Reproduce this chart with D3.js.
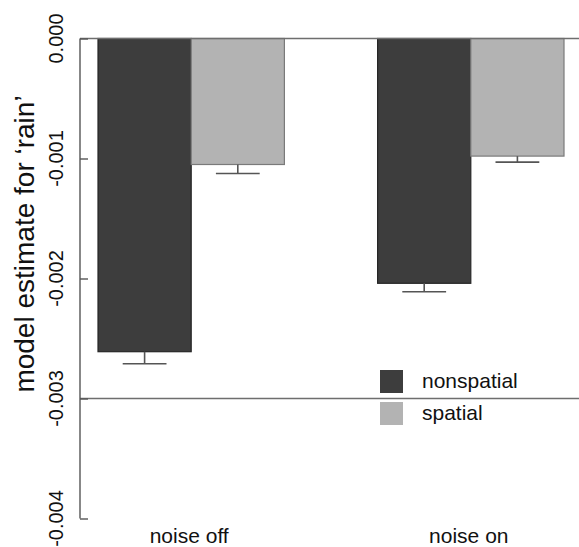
<!DOCTYPE html>
<html>
<head>
<meta charset="utf-8">
<script src="https://cdn.jsdelivr.net/npm/d3@7"></script>
<style>
  html, body { margin: 0; padding: 0; background: #fff; }
  svg { display: block; font-family: "Liberation Sans", Arial, Helvetica, sans-serif; }
</style>
</head>
<body>
<svg id="chart" width="579" height="547"></svg>
<script>
// ---- data ----
const groups = ["noise off", "noise on"];
const series = ["nonspatial", "spatial"];
const nonspatialValues = [-0.00261, -0.00204];
const spatialValues = [-0.00105, -0.00098];
const nonspatialErrLow = [-0.00271, -0.00211];
const spatialErrLow = [-0.001125, -0.00103];
const yTicks = [0, -0.001, -0.002, -0.003, -0.004];
const refLines = [0, -0.003];
const yTitle = "model estimate for \u2018rain\u2019";

const colors = { nonspatial: "#3d3d3d", spatial: "#b3b3b3" };
const strokes = { nonspatial: "#262626", spatial: "#7a7a7a" };

const rows = [];
groups.forEach((g, i) => {
  rows.push({ group: g, series: "nonspatial", value: nonspatialValues[i], low: nonspatialErrLow[i] });
  rows.push({ group: g, series: "spatial", value: spatialValues[i], low: spatialErrLow[i] });
});

const svg = d3.select("#chart");
const W = 579, H = 547;
const axisX = 80;

const y = d3.scaleLinear().domain([-0.004, 0]).range([518.5, 38.5]);
const x0 = d3.scaleBand().domain(groups).range([98, 564]).paddingInner(1/3).paddingOuter(0);
const x1 = d3.scaleBand().domain(series).range([0, x0.bandwidth()]).padding(0);

// bars
const g = svg.append("g");
g.selectAll("rect.bar")
  .data(rows)
  .join("rect")
  .attr("class", "bar")
  .attr("x", d => x0(d.group) + x1(d.series))
  .attr("y", d => y(0))
  .attr("width", x1.bandwidth())
  .attr("height", d => y(d.value) - y(0))
  .attr("fill", d => colors[d.series])
  .attr("stroke", d => strokes[d.series])
  .attr("stroke-width", 1.2);

// error bars
const capHalf = x1.bandwidth() * 0.235;
const eb = g.selectAll("g.err").data(rows).join("g").attr("class", "err")
  .attr("stroke", "#555").attr("stroke-width", 1.6);
eb.append("line")
  .attr("x1", d => x0(d.group) + x1(d.series) + x1.bandwidth() / 2)
  .attr("x2", d => x0(d.group) + x1(d.series) + x1.bandwidth() / 2)
  .attr("y1", d => y(d.value))
  .attr("y2", d => y(d.low));
eb.append("line")
  .attr("x1", d => x0(d.group) + x1(d.series) + x1.bandwidth() / 2 - capHalf)
  .attr("x2", d => x0(d.group) + x1(d.series) + x1.bandwidth() / 2 + capHalf)
  .attr("y1", d => y(d.low))
  .attr("y2", d => y(d.low));

// reference lines
svg.selectAll("line.ref").data(refLines).join("line")
  .attr("class", "ref")
  .attr("x1", axisX).attr("x2", W)
  .attr("y1", d => y(d)).attr("y2", d => y(d))
  .attr("stroke", "#6e6e6e").attr("stroke-width", 1.6);

// y axis (ticks pointing inward)
const axis = d3.axisRight(y).tickValues(yTicks).tickSize(8).tickFormat("");
const ag = svg.append("g").attr("transform", `translate(${axisX},0)`).call(axis);
ag.select(".domain").attr("stroke", "#555").attr("stroke-width", 1.4)
  .attr("d", `M0,${y(0)}V${y(-0.004)}`);
ag.selectAll(".tick line").attr("stroke", "#555").attr("stroke-width", 1.4);

// tick labels (rotated)
svg.selectAll("text.ytl").data(yTicks).join("text")
  .attr("class", "ytl")
  .attr("transform", d => `translate(63,${y(d)}) rotate(-90)`)
  .attr("text-anchor", "middle")
  .attr("font-size", 20)
  .attr("fill", "#111")
  .text(d => d3.format(".3f")(d).replace("\u2212", "-"));

// y title
svg.append("text")
  .attr("transform", `translate(34,244) rotate(-90)`)
  .attr("text-anchor", "middle")
  .attr("font-size", 28)
  .attr("fill", "#111")
  .text(yTitle);

// x labels
svg.selectAll("text.xl").data(groups).join("text")
  .attr("class", "xl")
  .attr("x", d => x0(d) + x0.bandwidth() / 2 - 2)
  .attr("y", 543)
  .attr("text-anchor", "middle")
  .attr("font-size", 21)
  .attr("fill", "#111")
  .text(d => d);

// legend
const lg = svg.append("g").selectAll("g").data(series).join("g")
  .attr("transform", (d, i) => `translate(380,${370 + i * 32})`);
lg.append("rect").attr("width", 23).attr("height", 23).attr("fill", d => colors[d]);
lg.append("text").attr("x", 42).attr("y", 18).attr("font-size", 21).attr("fill", "#111").text(d => d);
</script>
</body>
</html>
